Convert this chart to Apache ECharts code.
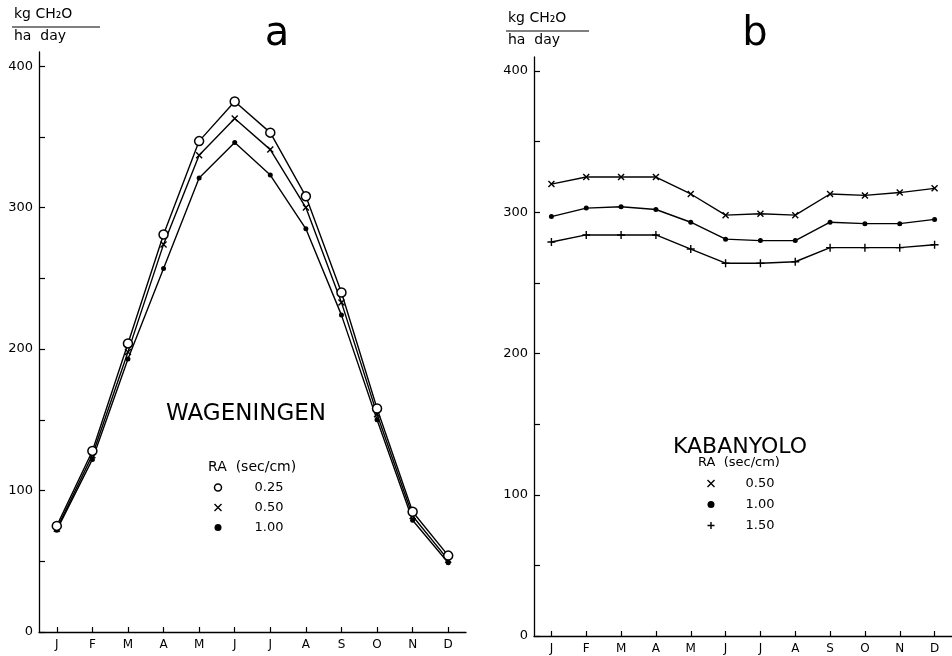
<!DOCTYPE html>
<html><head><meta charset="utf-8">
<script src="https://cdn.jsdelivr.net/npm/echarts@6/dist/echarts.min.js"></script>
<style>html,body{margin:0;padding:0;background:#fff}#c{width:952px;height:656px}</style>
</head><body><div id="c"></div>
<script>
const months = ['Jan','Feb','Mar','Apr','May','Jun','Jul','Aug','Sep','Oct','Nov','Dec'];
const yLabelValues = [0, 100, 200, 300, 400];
const yTickValues = [0, 50, 100, 150, 200, 250, 300, 350, 400];

// Wageningen (panel a)
const wagRA025 = [75, 128, 204, 281, 347, 375, 353, 308, 240, 158, 85, 54];
const wagRA050 = [73, 125, 198, 274, 337, 363, 341, 300, 233, 154, 82, 51];
const wagRA100 = [72, 122, 193, 257, 321, 346, 323, 285, 224, 150, 79, 49];

// Kabanyolo (panel b)
const kabRA050 = [320, 325, 325, 325, 313, 298, 299, 298, 313, 312, 314, 317];
const kabRA100 = [297, 303, 304, 302, 293, 281, 280, 280, 293, 292, 292, 295];
const kabRA150 = [279, 284, 284, 284, 274, 264, 264, 265, 275, 275, 275, 277];

const FONT = 'DejaVu Sans';
const INK = '#000';

const SYM = {
  circle: {symbol: 'circle', size: 9, style: {color: '#fff', borderColor: INK, borderWidth: 1.5}},
  cross: {symbol: 'path://M0,0L1,1M1,0L0,1', size: 6, style: {color: 'none', borderColor: INK, borderWidth: 1.4}},
  dot: {symbol: 'circle', size: 5, style: {color: INK, borderColor: INK, borderWidth: 0}},
  plus: {symbol: 'path://M0.5,0L0.5,1M0,0.5L1,0.5', size: 8, style: {color: 'none', borderColor: INK, borderWidth: 1.4}}
};

function mkSeries(name, data, idx, sym) {
  const s = SYM[sym];
  return {
    name: name, type: 'line', data: data,
    xAxisIndex: idx, yAxisIndex: idx,
    symbol: s.symbol, symbolSize: s.size, showSymbol: true,
    itemStyle: s.style,
    lineStyle: {color: INK, width: 1.4},
    smooth: false, z: sym === 'circle' ? 3 : 2,
    emphasis: {disabled: true}, silent: true
  };
}

function mkX(idx) {
  return {
    type: 'category', gridIndex: idx, data: months, boundaryGap: true,
    axisLine: {lineStyle: {color: INK, width: 1.3}},
    axisTick: {show: true, inside: true, alignWithLabel: true, length: 5, lineStyle: {color: INK, width: 1.2}},
    axisLabel: {color: INK, fontFamily: FONT, fontSize: 12, margin: 7, formatter: v => v.charAt(0), interval: 0},
    splitLine: {show: false}
  };
}
function mkY(idx) {
  return {
    type: 'value', gridIndex: idx, min: 0, max: 410,
    axisLine: {show: true, lineStyle: {color: INK, width: 1.3}},
    axisTick: {show: true, inside: true, length: 6, customValues: yTickValues, lineStyle: {color: INK, width: 1.2}},
    axisLabel: {color: INK, fontFamily: FONT, fontSize: 13, margin: 6, customValues: yLabelValues},
    splitLine: {show: false}
  };
}

function legendItem(name, sym) {
  const s = SYM[sym];
  return {name: name, icon: s.symbol, itemStyle: s.style};
}

const chart = echarts.init(document.getElementById('c'));
chart.setOption({
  animation: false,
  backgroundColor: '#fff',
  grid: [
    {left: 39, top: 52, width: 427, height: 580},
    {left: 534, top: 57, width: 425, height: 579}
  ],
  xAxis: [mkX(0), mkX(1)],
  yAxis: [mkY(0), mkY(1)],
  legend: [
    {
      orient: 'vertical', left: 212, top: 481, padding: 0, itemGap: 7,
      itemWidth: 7, itemHeight: 7, selectedMode: false,
      formatter: n => n.slice(1),
      textStyle: {color: INK, fontFamily: FONT, fontSize: 13, padding: [0, 0, 0, 28]},
      data: [legendItem('a0.25', 'circle'), legendItem('a0.50', 'cross'), legendItem('a1.00', 'dot')]
    },
    {
      orient: 'vertical', left: 705, top: 477, padding: 0, itemGap: 8,
      itemWidth: 7, itemHeight: 7, selectedMode: false,
      formatter: n => n.slice(1),
      textStyle: {color: INK, fontFamily: FONT, fontSize: 13, padding: [0, 0, 0, 26]},
      data: [legendItem('b0.50', 'cross'), legendItem('b1.00', 'dot'), legendItem('b1.50', 'plus')]
    }
  ],
  series: [
    mkSeries('a0.25', wagRA025, 0, 'circle'),
    mkSeries('a0.50', wagRA050, 0, 'cross'),
    mkSeries('a1.00', wagRA100, 0, 'dot'),
    mkSeries('b0.50', kabRA050, 1, 'cross'),
    mkSeries('b1.00', kabRA100, 1, 'dot'),
    mkSeries('b1.50', kabRA150, 1, 'plus')
  ],
  graphic: [
    {type: 'text', left: 14, top: 7, style: {text: 'kg CH₂O', font: '14px "DejaVu Sans"', fill: INK}},
    {type: 'line', shape: {x1: 12, y1: 27, x2: 100, y2: 27}, style: {stroke: INK, lineWidth: 1.2}},
    {type: 'text', left: 14, top: 29, style: {text: 'ha  day', font: '14px "DejaVu Sans"', fill: INK}},
    {type: 'text', left: 508, top: 11, style: {text: 'kg CH₂O', font: '14px "DejaVu Sans"', fill: INK}},
    {type: 'line', shape: {x1: 506, y1: 31, x2: 589, y2: 31}, style: {stroke: INK, lineWidth: 1.2}},
    {type: 'text', left: 508, top: 33, style: {text: 'ha  day', font: '14px "DejaVu Sans"', fill: INK}},
    {type: 'text', x: 277, y: 35, style: {text: 'a', font: '40px "DejaVu Sans"', fill: INK, align: 'center', verticalAlign: 'middle'}},
    {type: 'text', x: 755, y: 35, style: {text: 'b', font: '40px "DejaVu Sans"', fill: INK, align: 'center', verticalAlign: 'middle'}},
    {type: 'text', x: 246, y: 414, style: {text: 'WAGENINGEN', font: '23px "DejaVu Sans"', fill: INK, align: 'center', verticalAlign: 'middle'}},
    {type: 'text', x: 208, y: 467, style: {text: 'RA  (sec/cm)', font: '14px "DejaVu Sans"', fill: INK, align: 'left', verticalAlign: 'middle'}},
    {type: 'text', x: 740, y: 447, style: {text: 'KABANYOLO', font: '22px "DejaVu Sans"', fill: INK, align: 'center', verticalAlign: 'middle'}},
    {type: 'text', x: 698, y: 463, style: {text: 'RA  (sec/cm)', font: '13px "DejaVu Sans"', fill: INK, align: 'left', verticalAlign: 'middle'}}
  ]
});
</script>
</body></html>
